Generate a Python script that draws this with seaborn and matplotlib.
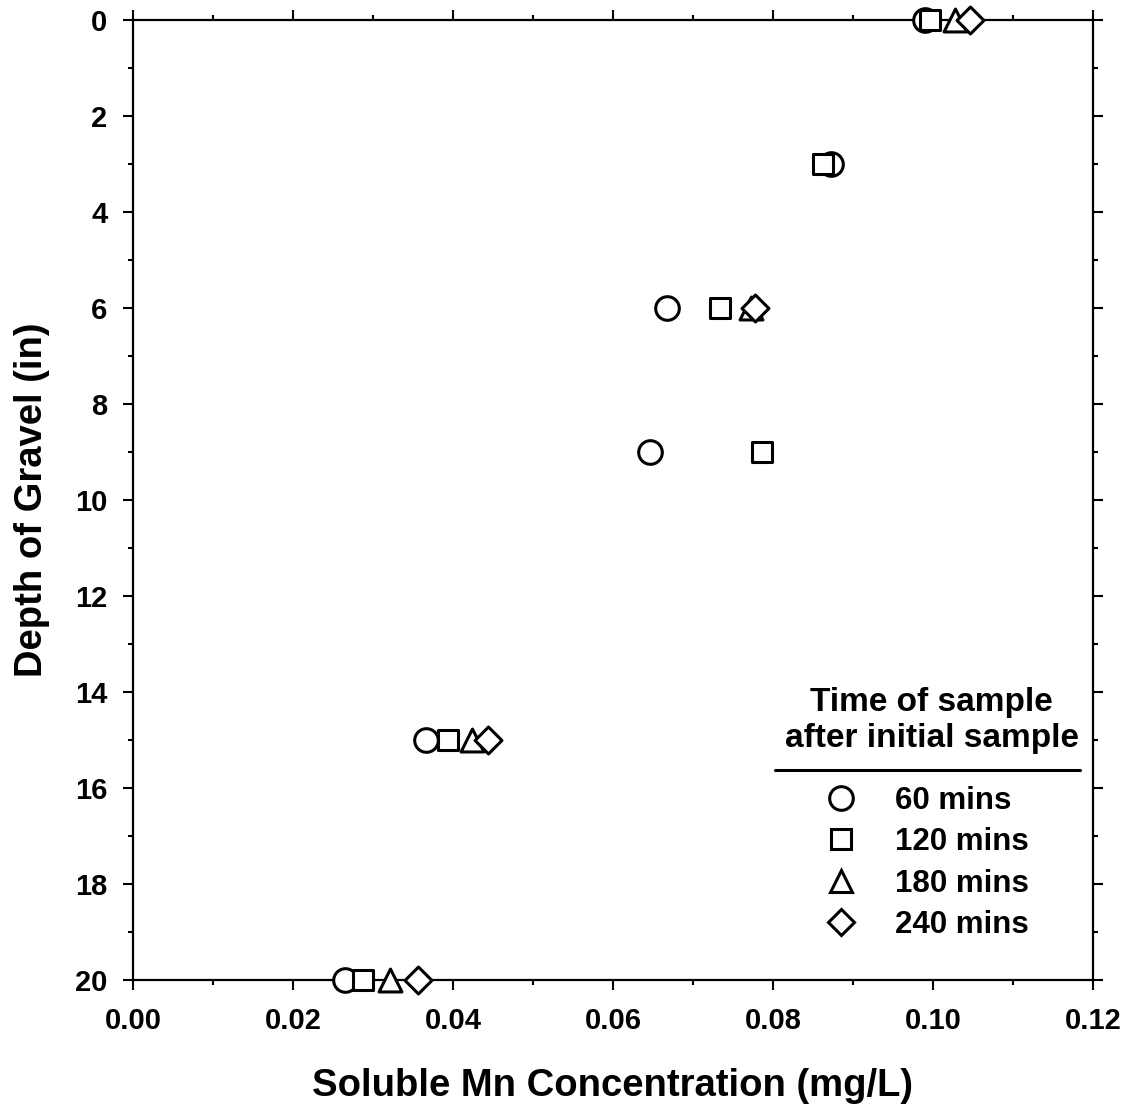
import numpy as np
import pandas as pd
import matplotlib
matplotlib.use("Agg")
import matplotlib.pyplot as plt
from matplotlib.lines import Line2D
from matplotlib.ticker import MultipleLocator, FormatStrFormatter
import seaborn as sns

# ---- data ----
depth = [0, 3, 6, 9, 15, 20]
mn_60 = [0.0990, 0.0872, 0.0667, 0.0646, 0.0366, 0.0265]
mn_120 = [0.0996, 0.0862, 0.0734, 0.0786, 0.0394, 0.0287]
mn_180 = [0.1028, np.nan, 0.0773, np.nan, 0.0424, 0.0321]
mn_240 = [0.1046, np.nan, 0.0778, np.nan, 0.0444, 0.0356]
series_labels = ["60 mins", "120 mins", "180 mins", "240 mins"]
series_values = [mn_60, mn_120, mn_180, mn_240]
legend_title = "Time of sample\nafter initial sample"
x_label = "Soluble Mn Concentration (mg/L)"
y_label = "Depth of Gravel (in)"

markers = ["o", "s", "^", "D"]
msizes = [17, 15, 16.5, 13.7]  # points

sns.set_theme(style="ticks")
plt.rcParams["font.family"] = ["Liberation Sans", "DejaVu Sans"]
plt.rcParams["font.weight"] = "bold"
plt.rcParams["axes.labelweight"] = "bold"
for k in ["text.color", "axes.labelcolor", "xtick.color", "ytick.color",
          "axes.edgecolor"]:
    plt.rcParams[k] = "black"

fig = plt.figure(figsize=(11.32, 11.12), dpi=100)
ax = fig.add_axes([133 / 1132, 1 - 980 / 1112, 960 / 1132, 960 / 1112])

for lab, vals, mk, ms in zip(series_labels, series_values, markers, msizes):
    df = pd.DataFrame({"conc": vals, "depth": depth}).dropna()
    sns.scatterplot(data=df, x="conc", y="depth", ax=ax, marker=mk, s=ms ** 2,
                    facecolor="white", edgecolor="black", linewidth=2.2,
                    clip_on=False, zorder=5, legend=False)

ax.set_xlim(0, 0.12)
ax.set_ylim(20, 0)
ax.xaxis.set_major_locator(MultipleLocator(0.02))
ax.xaxis.set_minor_locator(MultipleLocator(0.01))
ax.xaxis.set_major_formatter(FormatStrFormatter("%.2f"))
ax.yaxis.set_major_locator(MultipleLocator(2))
ax.yaxis.set_minor_locator(MultipleLocator(1))

for sp in ax.spines.values():
    sp.set_visible(True)
    sp.set_linewidth(1.6)
    sp.set_color("black")

ax.tick_params(which="both", direction="out", top=True, right=True,
               color="black", width=1.5, labelcolor="black")
ax.tick_params(which="major", length=7.5)
ax.tick_params(which="minor", length=3.8)
ax.tick_params(axis="x", which="major", labelsize=21, pad=12)
ax.tick_params(axis="y", which="major", labelsize=21, pad=11)
for t in ax.get_xticklabels() + ax.get_yticklabels():
    t.set_fontweight("bold")

ax.set_xlabel(x_label, fontsize=27.5, fontweight="bold", labelpad=23.5,
              color="black")
ax.set_ylabel(y_label, fontsize=27.5, fontweight="bold", labelpad=18,
              color="black")

handles = [Line2D([], [], linestyle="none", marker=mk, markersize=ms,
                  markerfacecolor="white", markeredgecolor="black",
                  markeredgewidth=2.2)
           for mk, ms in zip(markers, msizes)]
leg = ax.legend(handles, series_labels, loc="upper left",
                bbox_to_anchor=(0.721, 0.202), frameon=False,
                borderpad=0, borderaxespad=0, labelspacing=0.36,
                handlelength=1.0, handletextpad=1.25,
                prop={"size": 22.5, "weight": "bold"})
for t in leg.get_texts():
    t.set_color("black")

ax.text(0.832, 0.270, legend_title, transform=ax.transAxes, ha="center",
        va="center", fontsize=24, fontweight="bold", linespacing=1.22,
        color="black")
ax.add_line(Line2D([0.669, 0.986], [0.219, 0.219], transform=ax.transAxes,
                   color="black", linewidth=2.2, clip_on=False))

fig.savefig("out.png", dpi=100)
